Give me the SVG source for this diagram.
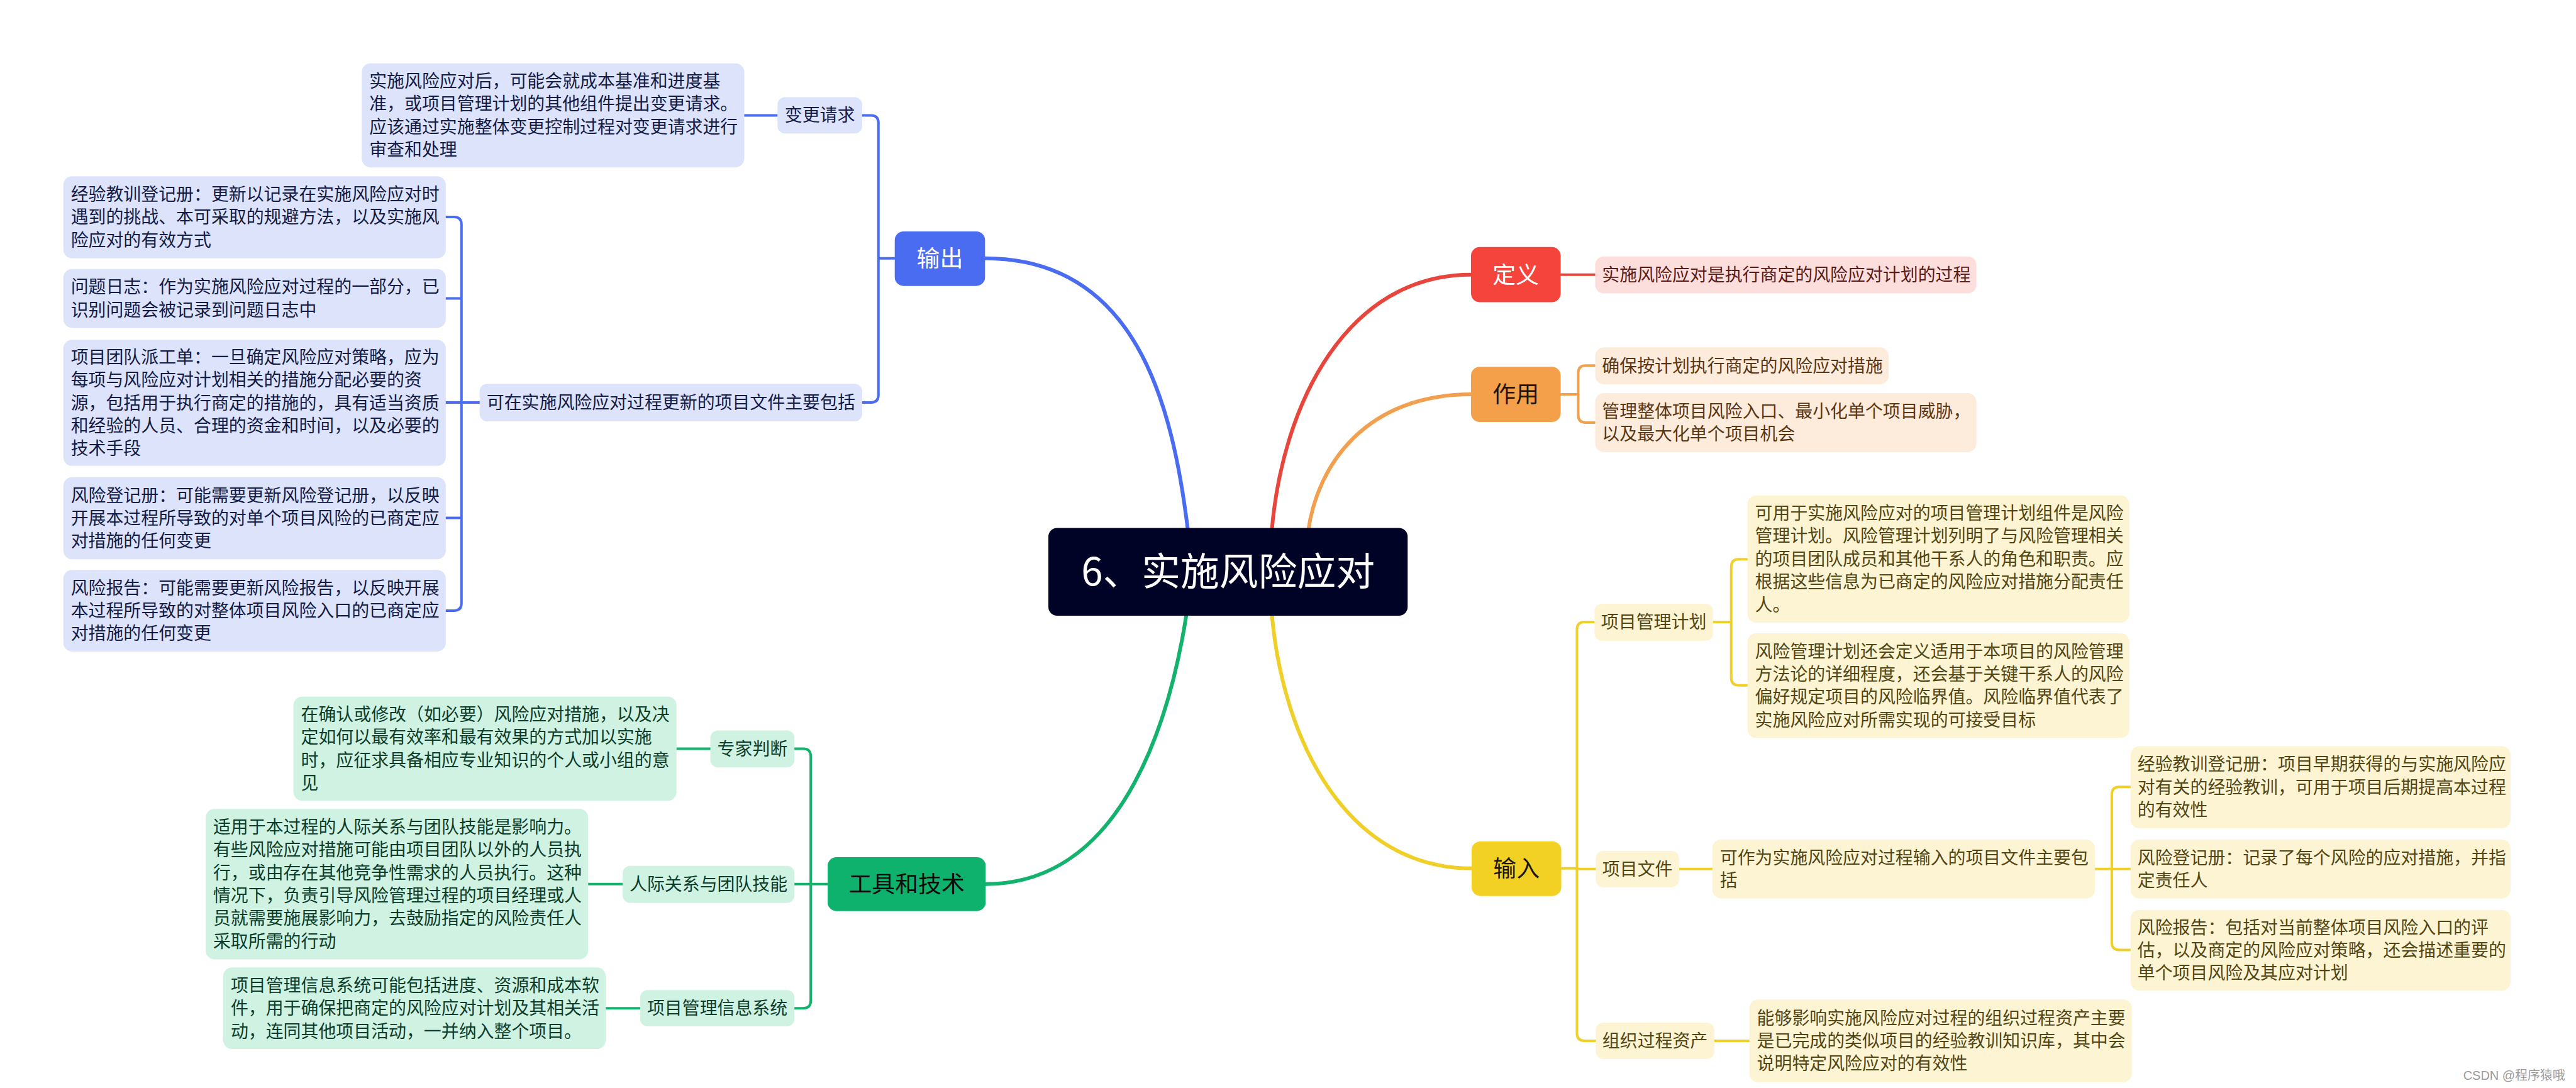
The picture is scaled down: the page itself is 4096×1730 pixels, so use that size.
<svg xmlns="http://www.w3.org/2000/svg" width="4096" height="1730" viewBox="0 0 4096 1730">
<style>
text{font-family:"Noto Sans CJK SC","Noto Sans",sans-serif}
.b{font-size:28px}
.s{font-size:28px;text-anchor:middle}
.m{font-size:37px;text-anchor:middle}
.c{font-size:62px;text-anchor:middle;fill:#fff}
.ln{fill:none;stroke-linecap:round;stroke-linejoin:round}
.main{stroke-width:6}
.sub{stroke-width:4}
.bl{stroke:#4A6CF0}.rd{stroke:#E8453C}.og{stroke:#F0A04E}.yl{stroke:#EFCF28}.gr{stroke:#13B36E}
.fb{fill:#DDE3FB}.tb{fill:#131B47}
.fr{fill:#FCDEDC}.tr{fill:#5A1C18}
.fo{fill:#FDEBDC}.to{fill:#5A3612}
.fy{fill:#FCF4D2}.ty{fill:#514614}
.fg{fill:#D0F2E3}.tg{fill:#0C3D2B}
</style>
<rect width="4096" height="1730" fill="#fff"/>
<g transform="scale(0.997)">
<g id="connectors">
<path class="ln main bl" d="M1895 850 C1870 640 1810 412 1571 412"/>
<path class="ln main rd" d="M2028 850 C2045 640 2150 438 2346 438"/>
<path class="ln main og" d="M2086 850 C2100 740 2180 629 2346 629"/>
<path class="ln main gr" d="M1893 975 C1870 1124 1800 1410 1572 1410"/>
<path class="ln main yl" d="M2028 975 C2045 1184 2150 1385 2347 1385"/>
<path class="ln sub bl" d="M1187 184 H1240 M1375 184 H1389 Q1401 184 1401 196 V630 Q1401 642 1389 642 H1375 M1427 412 H1401"/>
<path class="ln sub bl" d="M711 346 H724 Q736 346 736 358 V962 Q736 974 724 974 H711 M711 476 H736 M711 642 H765 M711 826 H736"/>
<path class="ln sub rd" d="M2489 438 H2544"/>
<path class="ln sub og" d="M2489 629 H2517 M2544 583 H2529 Q2517 583 2517 595 V662 Q2517 674 2529 674 H2544"/>
<path class="ln sub yl" d="M2490 1385 H2515 M2543 992 H2527 Q2515 992 2515 1004 V1648 Q2515 1660 2527 1660 H2545 M2515 1386 H2545"/>
<path class="ln sub yl" d="M2732 992 H2761 M2787 892 H2773 Q2761 892 2761 904 V1081 Q2761 1093 2773 1093 H2787"/>
<path class="ln sub yl" d="M2678 1386 H2731 M3341 1386 H3398 M3398 1255 H3380 Q3368 1255 3368 1267 V1503 Q3368 1515 3380 1515 H3398"/>
<path class="ln sub yl" d="M2734 1660 H2790"/>
<path class="ln sub gr" d="M1320 1410 H1267 M1267 1194 H1281 Q1293 1194 1293 1206 V1596 Q1293 1608 1281 1608 H1267"/>
<path class="ln sub gr" d="M1079 1194 H1133 M938 1410 H993 M966 1608 H1021"/>
</g>
<g id="central">
<rect x="1672" y="842" width="573" height="140" rx="14" fill="#000326"/>
<text class="c" x="1958.5" y="934">6、实施风险应对</text>
</g>
<g id="output">
<rect x="1427" y="369" width="144" height="87" rx="14" fill="#4A6CF0"/>
<text class="m" x="1499" y="425.5" fill="#fff">输出</text>
</g>
<g id="change-request">
<rect class="fb" x="1240" y="155" width="135" height="58" rx="12"/>
<text class="s tb" x="1307.5" y="194">变更请求</text>
</g>
<g id="change-request-detail">
<rect class="fb" x="577" y="101" width="610" height="166" rx="14"/>
<text class="b tb"><tspan x="589" y="139.25">实施风险应对后，可能会就成本基准和进度基</tspan><tspan x="589" y="175.75">准，或项目管理计划的其他组件提出变更请求。</tspan><tspan x="589" y="212.25">应该通过实施整体变更控制过程对变更请求进行</tspan><tspan x="589" y="248.75">审查和处理</tspan></text>
</g>
<g id="update-docs">
<rect class="fb" x="765" y="612" width="610" height="60" rx="12"/>
<text class="s tb" x="1070" y="652">可在实施风险应对过程更新的项目文件主要包括</text>
</g>
<g id="out-lessons">
<rect class="fb" x="101" y="281" width="610" height="131" rx="14"/>
<text class="b tb"><tspan x="113" y="320">经验教训登记册：更新以记录在实施风险应对时</tspan><tspan x="113" y="356.5">遇到的挑战、本可采取的规避方法，以及实施风</tspan><tspan x="113" y="393">险应对的有效方式</tspan></text>
</g>
<g id="out-issue">
<rect class="fb" x="101" y="429" width="610" height="94" rx="14"/>
<text class="b tb"><tspan x="113" y="467.75">问题日志：作为实施风险应对过程的一部分，已</tspan><tspan x="113" y="504.25">识别问题会被记录到问题日志中</tspan></text>
</g>
<g id="out-team">
<rect class="fb" x="101" y="542" width="610" height="201" rx="14"/>
<text class="b tb"><tspan x="113" y="579.5">项目团队派工单：一旦确定风险应对策略，应为</tspan><tspan x="113" y="616">每项与风险应对计划相关的措施分配必要的资</tspan><tspan x="113" y="652.5">源，包括用于执行商定的措施的，具有适当资质</tspan><tspan x="113" y="689">和经验的人员、合理的资金和时间，以及必要的</tspan><tspan x="113" y="725.5">技术手段</tspan></text>
</g>
<g id="out-register">
<rect class="fb" x="101" y="761" width="610" height="131" rx="14"/>
<text class="b tb"><tspan x="113" y="800">风险登记册：可能需要更新风险登记册，以反映</tspan><tspan x="113" y="836.5">开展本过程所导致的对单个项目风险的已商定应</tspan><tspan x="113" y="873">对措施的任何变更</tspan></text>
</g>
<g id="out-report">
<rect class="fb" x="101" y="909" width="610" height="130" rx="14"/>
<text class="b tb"><tspan x="113" y="947.5">风险报告：可能需要更新风险报告，以反映开展</tspan><tspan x="113" y="984">本过程所导致的对整体项目风险入口的已商定应</tspan><tspan x="113" y="1020.5">对措施的任何变更</tspan></text>
</g>
<g id="definition">
<rect x="2346" y="394" width="143" height="88" rx="14" fill="#F5443B"/>
<text class="m" x="2417.5" y="451" fill="#fff">定义</text>
</g>
<g id="definition-detail">
<rect class="fr" x="2544" y="409" width="608" height="59" rx="14"/>
<text class="b tr" x="2555" y="448.5">实施风险应对是执行商定的风险应对计划的过程</text>
</g>
<g id="purpose">
<rect x="2346" y="585" width="143" height="88" rx="14" fill="#F4A04A"/>
<text class="m" x="2417.5" y="642" fill="#1E1408">作用</text>
</g>
<g id="purpose-1">
<rect class="fo" x="2544" y="554" width="468" height="59" rx="14"/>
<text class="b to" x="2555" y="593.5">确保按计划执行商定的风险应对措施</text>
</g>
<g id="purpose-2">
<rect class="fo" x="2544" y="627" width="608" height="94" rx="14"/>
<text class="b to"><tspan x="2555" y="665.75">管理整体项目风险入口、最小化单个项目威胁，</tspan><tspan x="2555" y="702.25">以及最大化单个项目机会</tspan></text>
</g>
<g id="input">
<rect x="2347" y="1342" width="143" height="87" rx="14" fill="#F2D024"/>
<text class="m" x="2418.5" y="1398.5" fill="#1A1606">输入</text>
</g>
<g id="pm-plan">
<rect class="fy" x="2543" y="963" width="189" height="59" rx="12"/>
<text class="s ty" x="2637.5" y="1002.5">项目管理计划</text>
</g>
<g id="pm-plan-1">
<rect class="fy" x="2787" y="790" width="609" height="203" rx="14"/>
<text class="b ty"><tspan x="2799" y="828.5">可用于实施风险应对的项目管理计划组件是风险</tspan><tspan x="2799" y="865">管理计划。风险管理计划列明了与风险管理相关</tspan><tspan x="2799" y="901.5">的项目团队成员和其他干系人的角色和职责。应</tspan><tspan x="2799" y="938">根据这些信息为已商定的风险应对措施分配责任</tspan><tspan x="2799" y="974.5">人。</tspan></text>
</g>
<g id="pm-plan-2">
<rect class="fy" x="2787" y="1010" width="609" height="167" rx="14"/>
<text class="b ty"><tspan x="2799" y="1048.75">风险管理计划还会定义适用于本项目的风险管理</tspan><tspan x="2799" y="1085.25">方法论的详细程度，还会基于关键干系人的风险</tspan><tspan x="2799" y="1121.75">偏好规定项目的风险临界值。风险临界值代表了</tspan><tspan x="2799" y="1158.25">实施风险应对所需实现的可接受目标</tspan></text>
</g>
<g id="project-docs">
<rect class="fy" x="2545" y="1357" width="133" height="58" rx="12"/>
<text class="s ty" x="2611.5" y="1396">项目文件</text>
</g>
<g id="project-docs-detail">
<rect class="fy" x="2731" y="1339" width="610" height="94" rx="14"/>
<text class="b ty"><tspan x="2743" y="1377.75">可作为实施风险应对过程输入的项目文件主要包</tspan><tspan x="2743" y="1414.25">括</tspan></text>
</g>
<g id="in-lessons">
<rect class="fy" x="3398" y="1190" width="606" height="131" rx="14"/>
<text class="b ty"><tspan x="3409" y="1229">经验教训登记册：项目早期获得的与实施风险应</tspan><tspan x="3409" y="1265.5">对有关的经验教训，可用于项目后期提高本过程</tspan><tspan x="3409" y="1302">的有效性</tspan></text>
</g>
<g id="in-register">
<rect class="fy" x="3398" y="1339" width="606" height="94" rx="14"/>
<text class="b ty"><tspan x="3409" y="1377.75">风险登记册：记录了每个风险的应对措施，并指</tspan><tspan x="3409" y="1414.25">定责任人</tspan></text>
</g>
<g id="in-report">
<rect class="fy" x="3398" y="1451" width="606" height="129" rx="14"/>
<text class="b ty"><tspan x="3409" y="1489">风险报告：包括对当前整体项目风险入口的评</tspan><tspan x="3409" y="1525.5">估，以及商定的风险应对策略，还会描述重要的</tspan><tspan x="3409" y="1562">单个项目风险及其应对计划</tspan></text>
</g>
<g id="opa">
<rect class="fy" x="2545" y="1631" width="189" height="58" rx="12"/>
<text class="s ty" x="2639.5" y="1670">组织过程资产</text>
</g>
<g id="opa-detail">
<rect class="fy" x="2790" y="1594" width="610" height="132" rx="14"/>
<text class="b ty"><tspan x="2802" y="1633.5">能够影响实施风险应对过程的组织过程资产主要</tspan><tspan x="2802" y="1670">是已完成的类似项目的经验教训知识库，其中会</tspan><tspan x="2802" y="1706.5">说明特定风险应对的有效性</tspan></text>
</g>
<g id="tools">
<rect x="1320" y="1367" width="252" height="86" rx="14" fill="#0EB26D"/>
<text class="m" x="1446" y="1423" fill="#0A0A0A">工具和技术</text>
</g>
<g id="expert">
<rect class="fg" x="1133" y="1165" width="134" height="59" rx="12"/>
<text class="s tg" x="1200" y="1204.5">专家判断</text>
</g>
<g id="expert-detail">
<rect class="fg" x="468" y="1111" width="611" height="166" rx="14"/>
<text class="b tg"><tspan x="480" y="1149.25">在确认或修改（如必要）风险应对措施，以及决</tspan><tspan x="480" y="1185.75">定如何以最有效率和最有效果的方式加以实施</tspan><tspan x="480" y="1222.25">时，应征求具备相应专业知识的个人或小组的意</tspan><tspan x="480" y="1258.75">见</tspan></text>
</g>
<g id="interpersonal">
<rect class="fg" x="993" y="1381" width="274" height="59" rx="12"/>
<text class="s tg" x="1130" y="1420.5">人际关系与团队技能</text>
</g>
<g id="interpersonal-detail">
<rect class="fg" x="328" y="1290" width="610" height="240" rx="14"/>
<text class="b tg"><tspan x="340" y="1328.75">适用于本过程的人际关系与团队技能是影响力。</tspan><tspan x="340" y="1365.25">有些风险应对措施可能由项目团队以外的人员执</tspan><tspan x="340" y="1401.75">行，或由存在其他竞争性需求的人员执行。这种</tspan><tspan x="340" y="1438.25">情况下，负责引导风险管理过程的项目经理或人</tspan><tspan x="340" y="1474.75">员就需要施展影响力，去鼓励指定的风险责任人</tspan><tspan x="340" y="1511.25">采取所需的行动</tspan></text>
</g>
<g id="pmis">
<rect class="fg" x="1021" y="1579" width="246" height="58" rx="12"/>
<text class="s tg" x="1144" y="1618">项目管理信息系统</text>
</g>
<g id="pmis-detail">
<rect class="fg" x="356" y="1543" width="610" height="130" rx="14"/>
<text class="b tg"><tspan x="368" y="1581.5">项目管理信息系统可能包括进度、资源和成本软</tspan><tspan x="368" y="1618">件，用于确保把商定的风险应对计划及其相关活</tspan><tspan x="368" y="1654.5">动，连同其他项目活动，一并纳入整个项目。</tspan></text>
</g>
<text x="4091" y="1722" font-size="20" fill="#9A9A9A" text-anchor="end" style="font-family:'Liberation Sans','Noto Sans CJK SC',sans-serif">CSDN @程序猿哦</text>
</g>
</svg>
